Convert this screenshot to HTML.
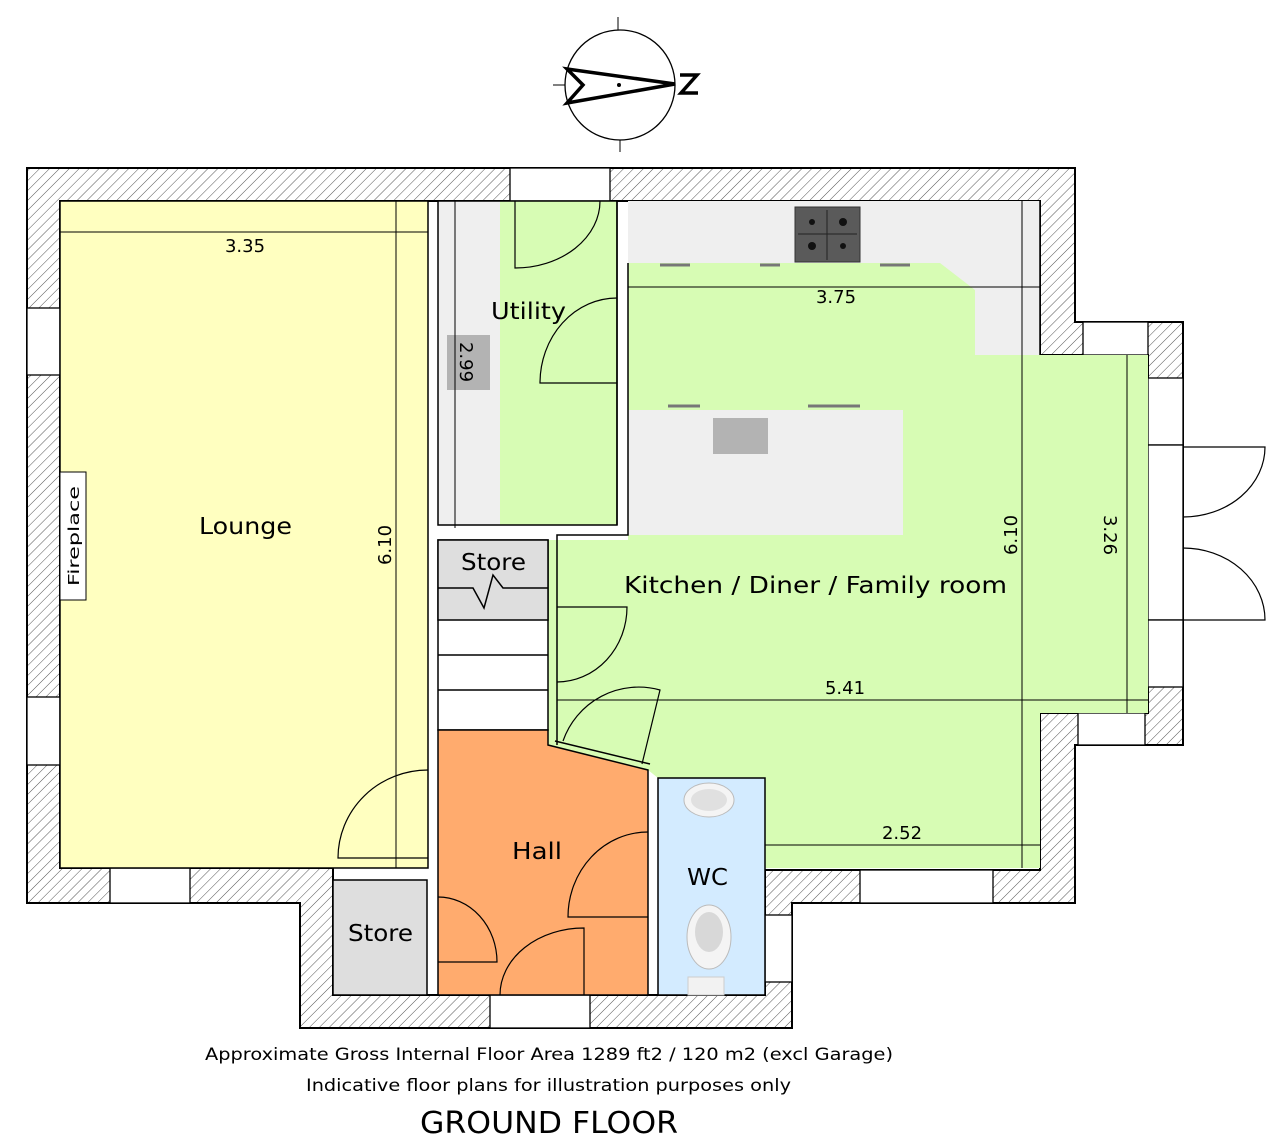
<!DOCTYPE html>
<html><head><meta charset="utf-8"><style>
html,body{margin:0;padding:0;background:#fff;}
svg{display:block;font-family:"DejaVu Sans","Liberation Sans",sans-serif;}
</style></head><body>
<svg width="1280" height="1146" viewBox="0 0 1280 1146" xmlns="http://www.w3.org/2000/svg">
<defs>
<pattern id="h" patternUnits="userSpaceOnUse" width="7" height="7" patternTransform="rotate(45)">
<rect width="7" height="7" fill="#fff"/><line x1="0" y1="0" x2="0" y2="7" stroke="#555" stroke-width="1"/>
</pattern>
</defs>
<!-- compass -->
<circle cx="620" cy="85" r="55" fill="none" stroke="#000" stroke-width="1.3"/>
<line x1="618" y1="17" x2="618" y2="30" stroke="#000"/>
<line x1="620" y1="140" x2="620" y2="152" stroke="#000"/>
<line x1="553" y1="85" x2="565" y2="85" stroke="#000"/>
<path d="M567,69 L675,84 L567,103 L583,85 Z" fill="none" stroke="#000" stroke-width="3.5" stroke-linejoin="miter"/>
<circle cx="619" cy="85" r="2" fill="#000"/>
<path d="M680,75 L697,75 L681,93 L698,93" fill="none" stroke="#000" stroke-width="3.5"/>

<!-- outer walls -->
<polygon points="27,168 1075,168 1075,322 1183,322 1183,745 1075,745 1075,903 792,903 792,1028 300,1028 300,903 27,903" fill="url(#h)" stroke="#000" stroke-width="2"/>
<polygon points="60,201 1040,201 1040,355 1148,355 1148,713 1040,713 1040,870 765,870 765,995 333,995 333,868 60,868" fill="#fff" stroke="#000" stroke-width="2"/>

<!-- windows -->
<g fill="#fff" stroke="#000" stroke-width="1.3">
<rect x="510" y="168" width="100" height="33"/>
<rect x="27" y="308" width="33" height="67"/>
<rect x="27" y="697" width="33" height="68"/>
<rect x="110" y="868" width="80" height="35"/>
<rect x="860" y="870" width="133" height="33"/>
<rect x="490" y="995" width="100" height="33"/>
<rect x="765" y="915" width="27" height="67"/>
<rect x="1083" y="322" width="65" height="33"/>
<rect x="1148" y="378" width="35" height="67"/>
<rect x="1148" y="445" width="35" height="175"/>
<rect x="1148" y="620" width="35" height="67"/>
<rect x="1078" y="713" width="67" height="32"/>
</g>

<!-- lounge -->
<rect x="60" y="201" width="368" height="667" fill="#ffffc0" stroke="#000" stroke-width="1.5"/>
<rect x="60" y="472" width="26" height="128" fill="#fff" stroke="#000"/>
<text transform="translate(79,536) rotate(-90)" text-anchor="middle" font-size="15" textLength="100" lengthAdjust="spacingAndGlyphs">Fireplace</text>

<!-- utility -->
<rect x="438" y="201" width="62" height="324" fill="#efefef"/>
<rect x="500" y="201" width="117" height="324" fill="#d7fcb4"/>
<rect x="438" y="201" width="179" height="324" fill="none" stroke="#000" stroke-width="1.5"/>
<rect x="447" y="335" width="43" height="55" fill="#b3b3b3"/>

<!-- kitchen -->
<polygon points="628,201 1040,201 1040,355 1148,355 1148,713 1040,713 1040,868 765,868 765,778 658,778 648,770 548,745 548,540 628,540" fill="#d7fcb4"/>
<rect x="628" y="201" width="412" height="62" fill="#efefef"/>
<rect x="975" y="201" width="65" height="154" fill="#efefef"/>
<polygon points="940,263 975,290 975,263" fill="#efefef"/>
<rect x="628" y="410" width="275" height="125" fill="#efefef"/>
<rect x="713" y="418" width="55" height="36" fill="#b3b3b3"/>
<rect x="795" y="207" width="65" height="55" fill="#5a5a5a" stroke="#333"/>
<g fill="#111"><circle cx="812" cy="222" r="3"/><circle cx="843" cy="222" r="4"/><circle cx="812" cy="246" r="4"/><circle cx="843" cy="246" r="3"/></g>
<line x1="827" y1="210" x2="827" y2="260" stroke="#222"/><line x1="798" y1="234" x2="857" y2="234" stroke="#222"/>
<g stroke="#777" stroke-width="3"><line x1="660" y1="265" x2="690" y2="265"/><line x1="760" y1="265" x2="780" y2="265"/><line x1="880" y1="265" x2="910" y2="265"/><line x1="668" y1="406" x2="700" y2="406"/><line x1="808" y1="406" x2="860" y2="406"/></g>
<g stroke="#000" stroke-width="1.5" fill="none">
<polyline points="628,263 628,535 557,535 557,745"/>
<line x1="617" y1="201" x2="617" y2="525"/>
<polyline points="1040,355 1040,201"/>
</g>

<!-- stairs + store -->
<rect x="438" y="540" width="110" height="190" fill="#fff" stroke="#000" stroke-width="1.5"/>
<rect x="438" y="540" width="110" height="80" fill="#dedede" stroke="#000" stroke-width="1.5"/>
<polyline points="438,588 473,588 484,608 493,575 503,588 548,588" fill="none" stroke="#000" stroke-width="1.5"/>
<g stroke="#000" stroke-width="1.5"><line x1="438" y1="655" x2="548" y2="655"/><line x1="438" y1="690" x2="548" y2="690"/></g>

<!-- hall -->
<polygon points="438,730 548,730 548,745 648,770 648,995 438,995" fill="#ffab6e" stroke="#000" stroke-width="1.5"/>
<line x1="555" y1="741" x2="650" y2="764" stroke="#000" stroke-width="1.5"/>
<!-- WC -->
<rect x="658" y="778" width="107" height="217" fill="#d3ebff" stroke="#000" stroke-width="1.5"/>
<ellipse cx="709" cy="800" rx="25" ry="17" fill="#f4f4f4" stroke="#bbb"/>
<ellipse cx="709" cy="800" rx="18" ry="11" fill="#e0e0e0"/>
<ellipse cx="709" cy="937" rx="22" ry="32" fill="#f4f4f4" stroke="#bbb"/>
<ellipse cx="709" cy="932" rx="14" ry="20" fill="#d8d8d8"/>
<rect x="688" y="977" width="36" height="18" fill="#f2f2f2" stroke="#ccc"/>
<!-- lower store -->
<rect x="333" y="880" width="94" height="115" fill="#dedede" stroke="#000" stroke-width="1.5"/>

<!-- doors -->
<g fill="none" stroke="#000" stroke-width="1.2">
<path d="M428,858 L338,858 A90,88 0 0 1 428,770"/>
<path d="M515,201 L515,268 A85,67 0 0 0 600,201"/>
<path d="M617,383 L540,383 A77,85 0 0 1 617,298"/>
<path d="M557,607 L627,607 A70,75 0 0 1 557,682"/>
<path d="M642,764 L660,690 A80,80 0 0 0 563,741"/>
<path d="M648,917 L568,917 A80,85 0 0 1 648,832"/>
<path d="M438,962 L497,962 A59,65 0 0 0 438,897"/>
<path d="M584,995 L584,928 A84,67 0 0 0 500,995"/>
<path d="M1183,447 L1265,447 A82,70 0 0 1 1183,517"/>
<path d="M1183,620 L1265,620 A82,72 0 0 0 1183,548"/>
</g>

<!-- dimensions -->
<g stroke="#000" stroke-width="1">
<line x1="60" y1="232" x2="428" y2="232"/>
<line x1="396" y1="201" x2="396" y2="868"/>
<line x1="455" y1="201" x2="455" y2="528"/>
<line x1="628" y1="287" x2="1040" y2="287"/>
<line x1="1022" y1="201" x2="1022" y2="868"/>
<line x1="1127" y1="355" x2="1127" y2="713"/>
<line x1="557" y1="700" x2="1148" y2="700"/>
<line x1="765" y1="845" x2="1040" y2="845"/>
</g>
<g font-size="18" fill="#000">
<text x="245" y="252" text-anchor="middle">3.35</text>
<text transform="translate(391,545) rotate(-90)" text-anchor="middle">6.10</text>
<text transform="translate(460,362) rotate(90)" text-anchor="middle">2.99</text>
<text x="836" y="303" text-anchor="middle">3.75</text>
<text transform="translate(1017,535) rotate(-90)" text-anchor="middle">6.10</text>
<text transform="translate(1104,535) rotate(90)" text-anchor="middle">3.26</text>
<text x="845" y="694" text-anchor="middle">5.41</text>
<text x="902" y="839" text-anchor="middle">2.52</text>
</g>

<!-- labels -->
<g font-size="23" fill="#000" lengthAdjust="spacingAndGlyphs">
<text x="199" y="534" textLength="93" lengthAdjust="spacingAndGlyphs">Lounge</text>
<text x="491" y="319" textLength="75" lengthAdjust="spacingAndGlyphs">Utility</text>
<text x="461" y="570" textLength="65" lengthAdjust="spacingAndGlyphs">Store</text>
<text x="624" y="593" textLength="383" lengthAdjust="spacingAndGlyphs">Kitchen / Diner / Family room</text>
<text x="512" y="859" textLength="50" lengthAdjust="spacingAndGlyphs">Hall</text>
<text x="687" y="885" textLength="41" lengthAdjust="spacingAndGlyphs">WC</text>
<text x="348" y="941" textLength="65" lengthAdjust="spacingAndGlyphs">Store</text>
</g>
<g fill="#000">
<text x="205" y="1060" font-size="17" textLength="688" lengthAdjust="spacingAndGlyphs">Approximate Gross Internal Floor Area 1289 ft2 / 120 m2 (excl Garage)</text>
<text x="306" y="1091" font-size="17" textLength="485" lengthAdjust="spacingAndGlyphs">Indicative floor plans for illustration purposes only</text>
<text x="420" y="1133" font-size="30" textLength="258" lengthAdjust="spacingAndGlyphs">GROUND FLOOR</text>
</g>
</svg>
</body></html>
